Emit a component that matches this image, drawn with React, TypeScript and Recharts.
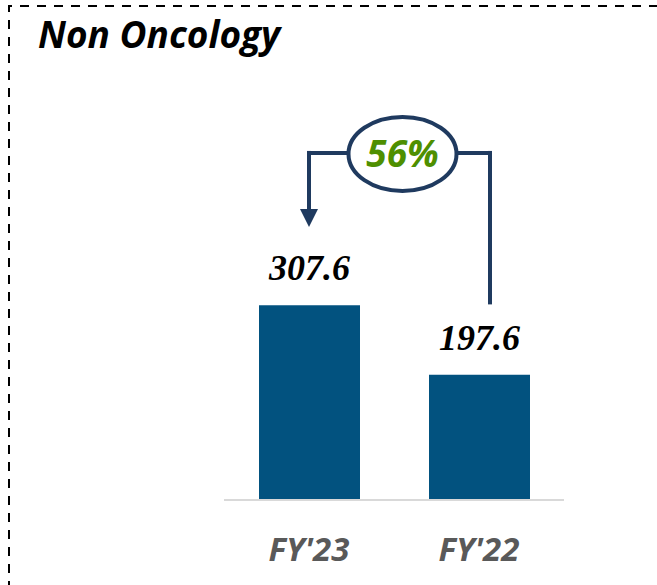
import { BarChart, Bar, XAxis, YAxis, LabelList, ReferenceLine } from 'recharts'

const categories = ["FY'23", "FY'22"]
const values = [307.6, 197.6]
const growthLabel = '56%'

// connector annotation levels on the value scale
const connectorLevel = 548
const connectorRightBottom = 312
const arrowTip = 431

const NAVY = '#1F3A5F'
const BAR = '#02527F'
const GREEN = '#4E8F00'
const RIGHT_SHIFT = 11

const chartData = categories.map((name, i) => ({ name, value: values[i] }))

const renderValueLabel = (props: any) => {
  const { x, y, width, value } = props
  return (
    <text
      x={Number(x) + Number(width) / 2}
      y={Number(y) - 25}
      textAnchor="middle"
      fontFamily="'Liberation Serif', 'DejaVu Serif', serif"
      fontStyle="italic"
      fontWeight="bold"
      fontSize={36}
      fill="#000"
    >
      {value}
    </text>
  )
}

const renderTick = (props: any) => {
  const { x, y, payload } = props
  return (
    <text
      x={x}
      y={y}
      dy={61}
      textAnchor="middle"
      fontFamily="'Open Sans', sans-serif"
      fontStyle="italic"
      fontWeight="bold"
      fontSize={33}
      fill="#595959"
    >
      {payload.value}
    </text>
  )
}

// left drop with arrowhead at the FY'23 bar
const renderDrop = (props: any) => {
  const { x1, y1, y2 } = props
  const top = Math.min(y1, y2)
  const bottom = Math.max(y1, y2)
  const h = 18
  return (
    <g>
      <line x1={x1} y1={top} x2={x1} y2={bottom - h + 2} stroke={NAVY} strokeWidth={4} strokeLinecap="square" />
      <polygon points={`${x1 - 9},${bottom - h} ${x1 + 9},${bottom - h} ${x1},${bottom}`} fill={NAVY} />
    </g>
  )
}

// horizontal run with the growth bubble in its middle
const renderRun = (props: any) => {
  const { x1, y1, x2 } = props
  const xr = x2 + RIGHT_SHIFT
  const cx = (x1 + xr) / 2 + 3
  const cy = y1 + 1
  return (
    <g>
      <line x1={x1} y1={y1} x2={xr} y2={y1} stroke={NAVY} strokeWidth={4} strokeLinecap="square" />
      <ellipse cx={cx} cy={cy} rx={54} ry={37} fill="#fff" stroke={NAVY} strokeWidth={4} />
      <text
        x={cx}
        y={cy + 13}
        textAnchor="middle"
        fontFamily="'Open Sans', sans-serif"
        fontStyle="italic"
        fontWeight="bold"
        fontSize={37}
        fill={GREEN}
      >
        {growthLabel}
      </text>
    </g>
  )
}

// right riser from above the FY'22 bar
const renderRise = (props: any) => {
  const { x1, y1, y2 } = props
  const x = x1 + RIGHT_SHIFT
  return <line x1={x} y1={y1} x2={x} y2={y2} stroke={NAVY} strokeWidth={4} strokeLinecap="square" />
}

export default function App() {
  return (
    <div style={{ position: 'absolute', left: 0, top: 0, width: 657, height: 585, background: '#fff', overflow: 'hidden' }}>
      <BarChart
        width={657}
        height={585}
        data={chartData}
        margin={{ top: 120, right: 93, bottom: 25, left: 224 }}
        barCategoryGap="20%"
      >
        <XAxis
          dataKey="name"
          height={60}
          tickLine={false}
          tickSize={0}
          tickMargin={0}
          axisLine={{ stroke: '#D9D9D9', strokeWidth: 2 }}
          tick={renderTick}
        />
        <YAxis hide domain={[0, 600]} />
        <Bar dataKey="value" fill={BAR} barSize={101} isAnimationActive={false}>
          <LabelList dataKey="value" content={renderValueLabel} />
        </Bar>
        <ReferenceLine
          segment={[
            { x: categories[1], y: connectorLevel },
            { x: categories[1], y: connectorRightBottom },
          ]}
          shape={renderRise}
        />
        <ReferenceLine
          segment={[
            { x: categories[0], y: connectorLevel },
            { x: categories[0], y: arrowTip },
          ]}
          shape={renderDrop}
        />
        <ReferenceLine
          segment={[
            { x: categories[0], y: connectorLevel },
            { x: categories[1], y: connectorLevel },
          ]}
          shape={renderRun}
        />
      </BarChart>
      <svg
        width={657}
        height={585}
        style={{ position: 'absolute', left: 0, top: 0, pointerEvents: 'none' }}
      >
        <path d="M9,590 V6 H700" fill="none" stroke="#000" strokeWidth={2} strokeDasharray="9 8" />
        <text
          x={38}
          y={48}
          fontFamily="'Open Sans', sans-serif"
          fontStyle="italic"
          fontWeight="bold"
          fontSize={37}
          fill="#000"
        >
          Non Oncology
        </text>
      </svg>
    </div>
  )
}
